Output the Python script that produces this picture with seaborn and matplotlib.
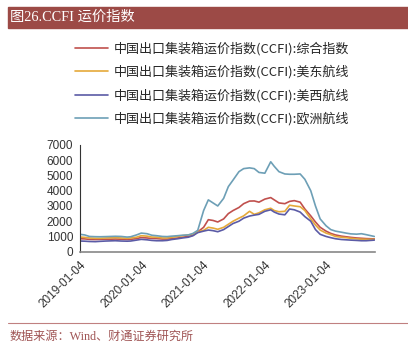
import numpy as np
import pandas as pd
import matplotlib
matplotlib.use("Agg")
import matplotlib.pyplot as plt
import matplotlib.dates as mdates
import seaborn as sns

dates = ["2019-01-04", "2019-02-01", "2019-03-01", "2019-04-05", "2019-05-03", "2019-06-07",
         "2019-07-05", "2019-08-02", "2019-09-06", "2019-10-11", "2019-11-01", "2019-12-06",
         "2020-01-03", "2020-02-07", "2020-03-06", "2020-04-03", "2020-05-08", "2020-06-05",
         "2020-07-03", "2020-08-07", "2020-09-04", "2020-10-09", "2020-11-06", "2020-12-04",
         "2021-01-08", "2021-02-05", "2021-03-05", "2021-04-02", "2021-05-07", "2021-06-04",
         "2021-07-02", "2021-08-06", "2021-09-03", "2021-10-08", "2021-11-05", "2021-12-03",
         "2022-01-07", "2022-02-11", "2022-03-04", "2022-04-01", "2022-05-06", "2022-06-03",
         "2022-07-01", "2022-08-05", "2022-09-02", "2022-10-07", "2022-11-04", "2022-12-02",
         "2023-01-06", "2023-02-03", "2023-03-03", "2023-04-07", "2023-05-05", "2023-06-02",
         "2023-07-07", "2023-08-04", "2023-09-01", "2023-10-20"]

composite = [850, 840, 810, 800, 810, 820, 820, 830, 820, 800, 810, 860,
             930, 900, 870, 860, 830, 830, 860, 900, 950, 1000, 1080, 1300,
             1600, 2100, 2050, 1950, 2150, 2500, 2700, 2900, 3150, 3320, 3330, 3250,
             3450, 3550, 3400, 3200, 3150, 3300, 3350, 3250, 2800, 2350, 1950, 1600,
             1350, 1200, 1100, 1020, 980, 940, 900, 880, 860, 840]

us_east = [960, 940, 900, 880, 880, 900, 910, 920, 900, 880, 900, 950,
           1050, 1020, 960, 950, 900, 900, 950, 1000, 1050, 1100, 1150, 1300,
           1400, 1600, 1550, 1470, 1600, 1800, 2000, 2200, 2350, 2650, 2450, 2550,
           2750, 2850, 2700, 2620, 2650, 3050, 3000, 2950, 2700, 2150, 1750, 1420,
           1220, 1120, 1000, 950, 920, 880, 840, 820, 810, 810]

us_west = [700, 690, 670, 660, 680, 700, 710, 720, 700, 690, 700, 760,
           810, 780, 740, 720, 720, 740, 800, 850, 900, 950, 1050, 1250,
           1350, 1420, 1380, 1310, 1450, 1650, 1850, 2000, 2200, 2340, 2400, 2450,
           2650, 2750, 2600, 2470, 2420, 2800, 2750, 2600, 2300, 2000, 1450, 1140,
           1000, 920, 850, 800, 780, 760, 740, 720, 720, 760]

europe = [1140, 1100, 1000, 985, 980, 990, 1000, 1010, 1000, 960, 980, 1100,
          1220, 1180, 1080, 1050, 1000, 990, 1020, 1050, 1080, 1100, 1200, 1400,
          2700, 3400, 3200, 3000, 3500, 4270, 4700, 5250, 5450, 5500, 5450, 5200,
          5150, 5900, 5600, 5250, 5100, 5080, 5080, 5100, 4750, 4000, 3000, 2150,
          1700, 1450, 1350, 1280, 1220, 1170, 1150, 1180, 1120, 1000]

labels = ["中国出口集装箱运价指数(CCFI):综合指数",
          "中国出口集装箱运价指数(CCFI):美东航线",
          "中国出口集装箱运价指数(CCFI):美西航线",
          "中国出口集装箱运价指数(CCFI):欧洲航线"]
colors = ["#c0504d", "#e5a93a", "#5b5ba6", "#6d9fb6"]
xtick_labels = ["2019-01-04", "2020-01-04", "2021-01-04", "2022-01-04", "2023-01-04"]
yticks = [0, 1000, 2000, 3000, 4000, 5000, 6000, 7000]

sns.set_style("white")
cjk = ["Noto Sans CJK SC", "DejaVu Sans"]

fig = plt.figure(figsize=(4.08, 3.51), dpi=100)
ax = fig.add_axes([80 / 408, (351 - 251.7) / 351, 295 / 408, 106.7 / 351])

d = pd.to_datetime(dates)
for vals, lab, col in zip([composite, us_east, us_west, europe], labels, colors):
    df = pd.DataFrame({"date": d, "value": vals})
    sns.lineplot(data=df, x="date", y="value", ax=ax, color=col, linewidth=1.2, label=lab)

ax.set_xlim(pd.Timestamp("2019-01-04"), pd.Timestamp("2023-10-24"))
ax.set_ylim(0, 7000)
ax.set_yticks(yticks)
ax.set_yticklabels([str(v) for v in yticks], fontsize=8.5, family="Liberation Sans")
xt = pd.to_datetime(xtick_labels)
ax.set_xticks(xt)
ax.set_xticklabels(xtick_labels, rotation=45, ha="right", rotation_mode="anchor",
                   fontsize=8.5, family="Liberation Sans")
ax.set_xlabel("")
ax.set_ylabel("")
for s in ["top", "right"]:
    ax.spines[s].set_visible(False)
ax.spines["left"].set_color("#333333")
ax.spines["left"].set_linewidth(0.8)
ax.spines["bottom"].set_color("#888888")
ax.spines["bottom"].set_linewidth(1.2)
ax.tick_params(axis="both", direction="out", length=3, width=0.8, colors="#333333", pad=2)

handles, labs = ax.get_legend_handles_labels()
if ax.legend_:
    ax.legend_.remove()
fig.legend(handles, labs, loc="upper left", bbox_to_anchor=(75 / 408, 1 - 42 / 351),
           frameon=False, prop={"family": cjk, "size": 9.4}, handlelength=2.5,
           labelspacing=0.74, handletextpad=0.45, borderpad=0, borderaxespad=0)

# title bar
fig.patches.append(plt.Rectangle((8 / 408, 1 - 28 / 351), 400 / 408, 21 / 351,
                                 transform=fig.transFigure, color="#9c4a46", zorder=0))
fig.text(10 / 408, 1 - 17.5 / 351, "图26.CCFI 运价指数", color="white", fontsize=10.3,
         va="center", ha="left", family=["Liberation Serif", "Noto Sans CJK SC"])

# source line
fig.add_artist(plt.Line2D([8 / 408, 1], [1 - 323 / 351, 1 - 323 / 351],
                          transform=fig.transFigure, color="#c08080", linewidth=0.8))
fig.text(10 / 408, 1 - 337 / 351, "数据来源：Wind、财通证券研究所", color="#a05555",
         fontsize=8.7, va="center", ha="left", family=["Liberation Serif", "Noto Sans CJK SC"])

fig.savefig("out.png", dpi=100)
